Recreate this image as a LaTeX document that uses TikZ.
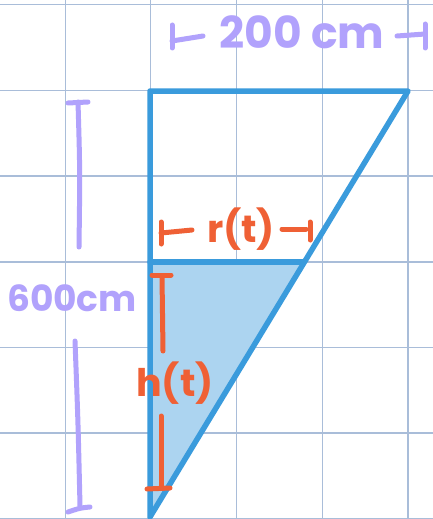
\documentclass[tikz,border=0pt]{standalone}
\usepackage{fontspec}
\setmainfont{Poppins}
\definecolor{gridc}{HTML}{A9BDD9}
\definecolor{tank}{HTML}{3A9BDC}
\definecolor{water}{HTML}{ACD4F0}
\definecolor{lav}{HTML}{B1A2FC}
\definecolor{org}{HTML}{EF6035}
\begin{document}
\begin{tikzpicture}[x=1pt,y=-1pt,
  gridline/.style={gridc, line width=1.3pt},
  tankline/.style={tank, line width=5.5pt, line cap=round, line join=round},
  lavpen/.style={lav, line width=5pt, line cap=round, line join=round},
  orgpen/.style={org, line width=5pt, line cap=round, line join=round},
  lavtext/.style={lav, inner sep=0pt, font=\fontsize{44}{44}\selectfont\bfseries},
  orgtext/.style={org, inner sep=0pt, font=\fontsize{38}{38}\selectfont\bfseries}]
\useasboundingbox (0,0) rectangle (433,519);
\fill[white] (0,0) rectangle (433,519);
% grid
\foreach \x in {65.7,150.7,236.7,322.3,408}
  \draw[gridline] (\x,0) -- (\x,519);
\foreach \y in {4.7,90.7,176,262,347.7,433,518.3}
  \draw[gridline] (0,\y) -- (433,\y);
% tank
\coordinate (A) at (150,91);
\coordinate (B) at (408,91);
\coordinate (C) at (150,517);
\coordinate (WL) at (150,262);
\coordinate (WR) at (304,262);
\fill[water] (WL) -- (WR) -- (C) -- cycle;
\draw[tankline] (A) -- (B) -- (C) -- cycle;
\draw[tankline] (WL) -- (WR);
% 200 cm label
\node[lavtext] (top) at (302,32) {200 cm};
\coordinate (tl1) at (172,25); \coordinate (tl2) at (172,48);
\coordinate (tl3) at (203,36);
\draw[lavpen] (tl1) -- (tl2);
\draw[lavpen] (172,41) -- (tl3);
\coordinate (tr1) at (425,24); \coordinate (tr2) at (425,48);
\coordinate (tr3) at (397,36);
\draw[lavpen] (tr1) -- (tr2);
\draw[lavpen] (tr3) -- (425,34);
% 600 cm label
\node[lavtext, font=\fontsize{36}{36}\selectfont\bfseries] (side) at (72,298) {600cm};
\coordinate (s1) at (78,102); \coordinate (s2) at (79,247);
\draw[lavpen] (68,103) -- (88,102);
\draw[lavpen] (s1) .. controls (80,170) .. (s2);
\coordinate (s3) at (75,341); \coordinate (s4) at (80,506);
\draw[lavpen] (s3) .. controls (78,420) .. (s4);
\draw[lavpen] (68,512) .. controls (80,508) .. (90,507);
% r(t)
\node[orgtext] (r) at (241,229) {r(t)};
\draw[orgpen] (161,222) -- (161,244);
\draw[orgpen] (161,233) -- (192,230);
\draw[orgpen] (282,229) -- (306,229);
\draw[orgpen] (310,222) -- (310,240);
% h(t)
\node[orgtext] (h) at (175,383) {h(t)};
\draw[orgpen] (152,275) -- (171,275);
\draw[orgpen] (162,276) -- (163,351);
\draw[orgpen] (161,416) -- (161,487);
\draw[orgpen] (147,489) -- (170,488);
\end{tikzpicture}
\end{document}
